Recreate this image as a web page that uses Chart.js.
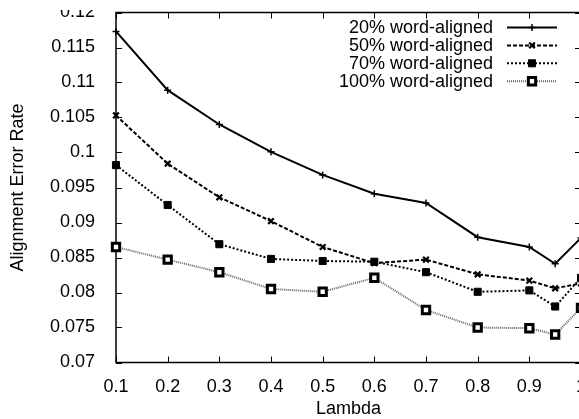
<!DOCTYPE html>
<html><head><meta charset="utf-8">
<script src="https://cdn.jsdelivr.net/npm/chart.js@4/dist/chart.umd.min.js"></script>
<style>
html,body{margin:0;padding:0;background:#fff;overflow:hidden;width:579px;height:419px;}
#wrap{position:absolute;left:0;top:0;width:620px;height:419px;}
#topcut{position:absolute;left:0;top:0;width:579px;height:10px;background:#fff;}
</style></head><body>
<div id="wrap"><canvas id="c" width="620" height="419"></canvas></div>
<div id="topcut"></div>
<script>
const lambdas = [0.1, 0.2, 0.3, 0.4, 0.5, 0.6, 0.7, 0.8, 0.9, 0.95, 1.0];
const seriesLabels = ['20% word-aligned', '50% word-aligned', '70% word-aligned', '100% word-aligned'];
const aligned20  = [0.1173, 0.1089, 0.1040, 0.1001, 0.0968, 0.0941, 0.0928, 0.0879, 0.0865, 0.0841, 0.0878];
const aligned50  = [0.1053, 0.0984, 0.0936, 0.0902, 0.0865, 0.0842, 0.0847, 0.0826, 0.0817, 0.0806, 0.0813];
const aligned70  = [0.0982, 0.0925, 0.0869, 0.0848, 0.0845, 0.0844, 0.0829, 0.0801, 0.0803, 0.0780, 0.0821];
const aligned100 = [0.0865, 0.0847, 0.0829, 0.0805, 0.0801, 0.0821, 0.0775, 0.0750, 0.0749, 0.0740, 0.0778];
const yTicksMin = 0.07, yTicksMax = 0.12, yStep = 0.005;
const xTicksMin = 0.1, xTicksMax = 1.0, xStep = 0.1;
const xTitle = 'Lambda';
const yTitle = 'Alignment Error Rate';

const FONT = '"Liberation Sans", Arial, Helvetica, sans-serif';
const FS = 18;
const toPts = (vals) => lambdas.map((l, i) => ({x: l, y: vals[i]}));

const styles = [
  {borderColor:'#000', borderWidth:2, borderDash:[], pointStyle:'cross', pointRadius:3.5, pointBorderWidth:1.5, pointBackgroundColor:'#000'},
  {borderColor:'#000', borderWidth:2, borderDash:[4,2], pointStyle:'crossRot', pointRadius:4, pointBorderWidth:2.2, pointBackgroundColor:'#000'},
  {borderColor:'#000', borderWidth:2, borderDash:[2,2], pointStyle:'rect', pointRadius:5, pointBorderWidth:1, pointBackgroundColor:'#000'},
  {borderColor:'#666', borderWidth:2, borderDash:[1,1], pointStyle:'rect', pointRadius:5.2, pointBorderWidth:3, pointBackgroundColor:'#fff', pointBorderColor:'#000'}
];
const allSeries = [aligned20, aligned50, aligned70, aligned100];

const datasets = allSeries.map((vals, i) => Object.assign({
  label: seriesLabels[i],
  data: toPts(vals),
  fill: false,
  tension: 0,
  clip: 8,
  pointBorderColor: styles[i].pointBorderColor || '#000',
  pointHoverRadius: styles[i].pointRadius
}, styles[i]));

const framePlugin = {
  id: 'frame',
  beforeDatasetsDraw(chart) {
    const {ctx, chartArea: a, scales: {x, y}} = chart;
    ctx.save();
    ctx.strokeStyle = '#000';
    ctx.lineWidth = 1.5;
    ctx.setLineDash([]);
    ctx.strokeRect(a.left, a.top, a.right - a.left, a.bottom - a.top);
    ctx.lineWidth = 1;
    const L = 6;
    ctx.beginPath();
    x.ticks.forEach(t => {
      const px = Math.round(x.getPixelForValue(t.value)) + 0.5;
      ctx.moveTo(px, a.bottom); ctx.lineTo(px, a.bottom - L);
      ctx.moveTo(px, a.top); ctx.lineTo(px, a.top + L);
    });
    y.ticks.forEach(t => {
      const py = Math.round(y.getPixelForValue(t.value)) + 0.5;
      ctx.moveTo(a.left, py); ctx.lineTo(a.left + L, py);
      ctx.moveTo(a.right, py); ctx.lineTo(a.right - L, py);
    });
    ctx.stroke();
    ctx.restore();
  }
};

const legendPlugin = {
  id: 'gpLegend',
  afterDraw(chart) {
    const ctx = chart.ctx;
    const textRight = 493, lineL = 507, lineR = 557, top = 27.5, rowH = 17.9;
    ctx.save();
    chart.data.datasets.forEach((ds, i) => {
      const yy = top + i * rowH;
      ctx.font = FS + 'px ' + FONT;
      ctx.fillStyle = '#000';
      ctx.textAlign = 'right';
      ctx.textBaseline = 'middle';
      ctx.fillText(ds.label, textRight, yy + 1);
      ctx.strokeStyle = ds.borderColor;
      ctx.lineWidth = ds.borderWidth;
      ctx.setLineDash(ds.borderDash || []);
      ctx.beginPath();
      ctx.moveTo(lineL, yy); ctx.lineTo(lineR, yy);
      ctx.stroke();
      ctx.setLineDash([]);
      ctx.fillStyle = ds.pointBackgroundColor;
      ctx.strokeStyle = ds.pointBorderColor;
      ctx.lineWidth = ds.pointBorderWidth;
      Chart.helpers.drawPoint(ctx, {
        pointStyle: ds.pointStyle, radius: ds.pointRadius, rotation: 0,
        borderWidth: ds.pointBorderWidth
      }, (lineL + lineR) / 2, yy);
    });
    ctx.restore();
  }
};

new Chart(document.getElementById('c'), {
  type: 'line',
  data: { datasets },
  plugins: [framePlugin, legendPlugin],
  options: {
    responsive: false,
    animation: false,
    devicePixelRatio: 1,
    layout: { padding: { left: 0, top: 12.5, right: 39, bottom: 0 } },
    plugins: { legend: { display: false }, tooltip: { enabled: false } },
    scales: {
      x: {
        type: 'linear',
        min: xTicksMin, max: xTicksMax,
        grid: { display: false },
        border: { display: false },
        ticks: {
          stepSize: xStep,
          color: '#000',
          font: { family: FONT, size: FS },
          padding: 6,
          maxRotation: 0,
          autoSkip: false,
          callback: (v) => String(+Number(v).toFixed(2))
        },
        title: { display: true, text: xTitle, color: '#000', font: { family: FONT, size: FS, lineHeight: 1.1 }, padding: { top: 0, bottom: 0 } },
        afterFit: (s) => { s.height = 56.5; s.paddingLeft = 0; s.paddingRight = 0; }
      },
      y: {
        type: 'linear',
        min: yTicksMin, max: yTicksMax,
        grid: { display: false },
        border: { display: false },
        ticks: {
          stepSize: yStep,
          color: '#000',
          font: { family: FONT, size: FS },
          padding: 13,
          autoSkip: false,
          callback: (v) => String(+Number(v).toFixed(3))
        },
        title: { display: true, text: yTitle, color: '#000', font: { family: FONT, size: FS }, padding: { top: 7, bottom: 0 } },
        afterFit: (s) => { s.width = 116; s.paddingTop = 0; s.paddingBottom = 0; }
      }
    }
  }
});
</script>
</body></html>
